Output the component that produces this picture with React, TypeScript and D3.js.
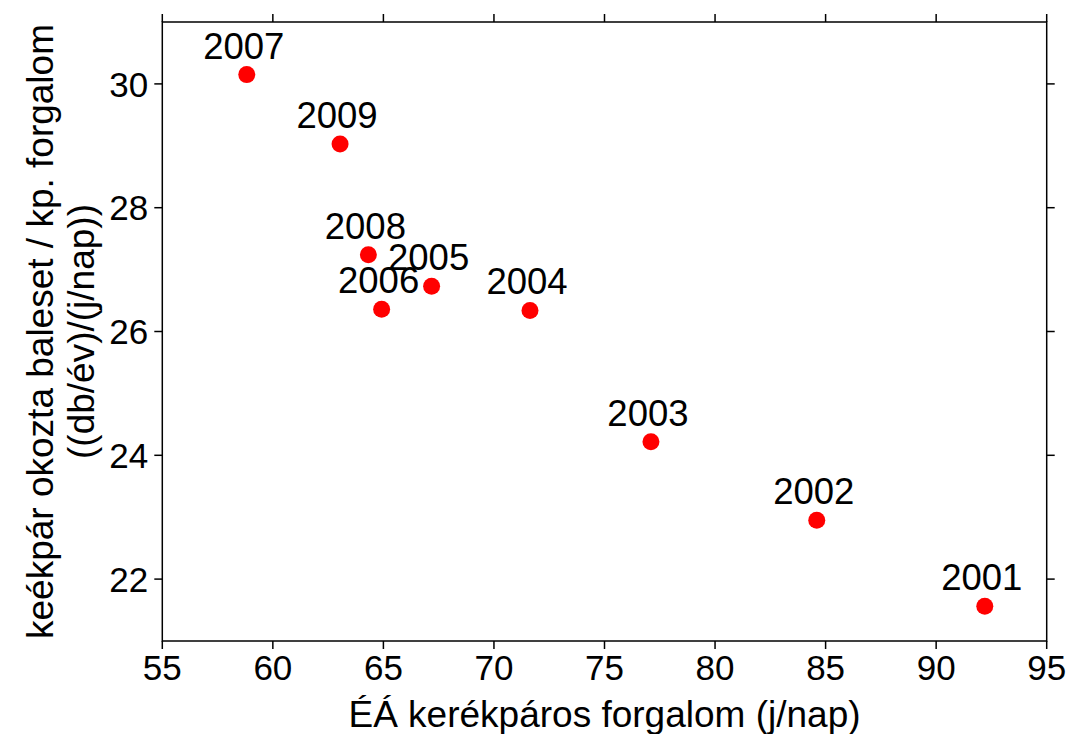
import React from "react";
import * as d3 from "d3";

const years = ["2001", "2002", "2003", "2004", "2005", "2006", "2007", "2008", "2009"];
const traffic = [92.2, 84.6, 77.1, 71.63, 67.18, 64.92, 58.82, 64.32, 63.04];
const accidents = [21.56, 22.95, 24.22, 26.34, 26.73, 26.36, 30.15, 27.24, 29.03];
const xTicks = [55, 60, 65, 70, 75, 80, 85, 90, 95];
const yTicks = [22, 24, 26, 28, 30];

const W = 1072, H = 734;
const M = { left: 162.3, right: 1046.7, top: 22, bottom: 641 };
const FONT = "'Liberation Sans', Arial, sans-serif";

export default function App() {
  const x = d3.scaleLinear().domain([55, 95]).range([M.left, M.right]);
  const y = d3.scaleLinear().domain([21, 31]).range([M.bottom, M.top]);
  const tl = 8;
  const fs = 35;
  const ls = 36.5;
  return (
    <svg width={W} height={H} style={{ position: "absolute", left: 0, top: 0, fontFamily: FONT }}>
      <rect x={0} y={0} width={W} height={H} fill="white" />
      <rect x={M.left} y={M.top} width={M.right - M.left} height={M.bottom - M.top} fill="none" stroke="black" strokeWidth={1.5} />
      {xTicks.map((t) => (
        <g key={"x" + t}>
          <line x1={x(t)} x2={x(t)} y1={M.bottom} y2={M.bottom + tl} stroke="black" strokeWidth={1.5} />
          <line x1={x(t)} x2={x(t)} y1={M.top} y2={M.top - tl} stroke="black" strokeWidth={1.5} />
          <text x={x(t)} y={M.bottom + 39} textAnchor="middle" fontSize={fs} fill="black">{t}</text>
        </g>
      ))}
      {yTicks.map((t) => (
        <g key={"y" + t}>
          <line x1={M.left - tl} x2={M.left} y1={y(t)} y2={y(t)} stroke="black" strokeWidth={1.5} />
          <line x1={M.right} x2={M.right + tl} y1={y(t)} y2={y(t)} stroke="black" strokeWidth={1.5} />
          <text x={M.left - 14} y={y(t)} dy="0.36em" textAnchor="end" fontSize={fs} fill="black">{t}</text>
        </g>
      ))}
      {years.map((yr, i) => (
        <g key={yr}>
          <circle cx={x(traffic[i])} cy={y(accidents[i])} r={8.5} fill="#ff0000" />
          <text x={x(traffic[i]) - 3} y={y(accidents[i]) - 16} textAnchor="middle" fontSize={ls} fill="black">{yr}</text>
        </g>
      ))}
      <text x={(M.left + M.right) / 2 + 0} y={727} textAnchor="middle" fontSize={37} fill="black">ÉÁ kerékpáros forgalom (j/nap)</text>
      <g transform={`translate(40, ${(M.top + M.bottom) / 2}) rotate(-90)`}>
        <text x={0} y={0} dy="0.36em" textAnchor="middle" fontSize={37} fill="black">keékpár okozta baleset / kp. forgalom</text>
      </g>
      <g transform={`translate(81, ${(M.top + M.bottom) / 2}) rotate(-90)`}>
        <text x={0} y={0} dy="0.36em" textAnchor="middle" fontSize={37} fill="black">((db/év)/(j/nap))</text>
      </g>
    </svg>
  );
}
